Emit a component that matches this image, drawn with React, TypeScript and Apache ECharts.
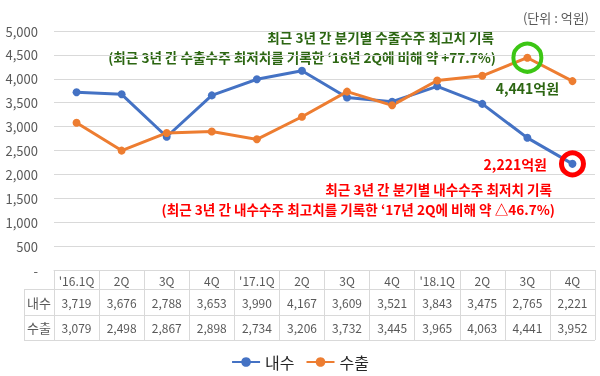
import React, { useEffect, useRef } from "react";
import * as echarts from "echarts";

const categories = ["'16.1Q", "2Q", "3Q", "4Q", "'17.1Q", "2Q", "3Q", "4Q", "'18.1Q", "2Q", "3Q", "4Q"];
const domestic = [3719, 3676, 2788, 3653, 3990, 4167, 3609, 3521, 3843, 3475, 2765, 2221];
const exportVals = [3079, 2498, 2867, 2898, 2734, 3206, 3732, 3445, 3965, 4063, 4441, 3952];
const seriesNames = ["내수", "수출"];

const FONT = "'Noto Sans CJK KR', 'Noto Sans', sans-serif";
const GRAY = "#595959";
const LINE = "#d9d9d9";
const GREEN_TXT = "#2c6612";
const NOTE_SIZE = 13.6;
const fmt = (v: number) => v.toLocaleString("en-US");

export default function App() {
  const ref = useRef<HTMLDivElement>(null);
  useEffect(() => {
    if (!ref.current) return;
    const chart = echarts.init(ref.current, null, { renderer: "svg" });
    const gridL = 54, gridR = 5, gridT = 31, gridB = 106;
    const tableL = 24, tableR = 600 - gridR;
    const rowLines = [289, 315, 340];
    const tableX = (idx: number, margin: number) => ({
      type: "category",
      gridIndex: 0,
      position: "bottom",
      data: idx === 0 ? categories : categories.map((_, i) => fmt(idx === 1 ? domestic[i] : exportVals[i])),
      boundaryGap: true,
      axisLine: idx === 0 ? { show: true, lineStyle: { color: LINE } } : { show: false },
      axisTick: idx === 0 ? { show: true, length: 70, lineStyle: { color: LINE } } : { show: false },
      axisLabel: { margin, fontSize: 12, lineHeight: 16, color: GRAY, fontFamily: FONT, interval: 0 },
      splitLine: { show: false },
    });
    const note = (text: string, x: number, y: number, fill: string) => ({
      type: "text",
      x,
      y,
      style: {
        text, fill, fontSize: NOTE_SIZE, fontWeight: "bold", fontFamily: FONT,
        align: "right", verticalAlign: "middle",
      },
    });
    chart.setOption({
      animation: false,
      textStyle: { fontFamily: FONT },
      grid: { left: gridL, right: gridR, top: gridT, bottom: gridB, containLabel: false },
      legend: {
        data: seriesNames,
        top: 349,
        left: "center",
        itemWidth: 28,
        itemHeight: 12,
        itemGap: 11,
        textStyle: { fontSize: 16, color: "#262626", fontFamily: FONT },
      },
      xAxis: [tableX(0, 2), tableX(1, 24), tableX(2, 49)],
      yAxis: {
        type: "value",
        min: 0,
        max: 5000,
        interval: 500,
        axisLine: { show: false },
        axisTick: { show: false },
        axisLabel: {
          margin: 16,
          fontSize: 13,
          color: GRAY,
          fontFamily: FONT,
          formatter: (v: number) => (v === 0 ? "-" : fmt(v)),
        },
        splitLine: { lineStyle: { color: LINE } },
      },
      series: [
        {
          name: seriesNames[0],
          type: "line",
          data: domestic,
          color: "#4472C4",
          lineStyle: { width: 3 },
          symbol: "circle",
          symbolSize: 8,
          markPoint: {
            symbol: "circle",
            symbolSize: 22,
            itemStyle: { color: "rgba(0,0,0,0)", borderColor: "#ff0000", borderWidth: 5 },
            label: {
              show: true,
              position: "left",
              distance: 12,
              formatter: (p: any) => fmt(p.value) + "억원",
              color: "#ff0000",
              fontWeight: "bold",
              fontSize: 14,
              fontFamily: FONT,
            },
            data: [{ type: "min" }],
          },
        },
        {
          name: seriesNames[1],
          type: "line",
          data: exportVals,
          color: "#ED7D31",
          lineStyle: { width: 3 },
          symbol: "circle",
          symbolSize: 8,
          markPoint: {
            symbol: "circle",
            symbolSize: 28,
            itemStyle: { color: "rgba(0,0,0,0)", borderColor: "#3cc614", borderWidth: 4 },
            label: {
              show: true,
              position: "bottom",
              distance: 7,
              formatter: (p: any) => fmt(p.value) + "억원",
              color: GREEN_TXT,
              fontWeight: "bold",
              fontSize: 14,
              fontFamily: FONT,
            },
            data: [{ type: "max" }],
          },
        },
      ],
      graphic: [
        {
          type: "text",
          right: 11,
          top: 11,
          style: { text: "(단위 : 억원)", fill: GRAY, fontSize: 13, fontFamily: FONT },
        },
        note("최근 3년 간 분기별 수출수주 최고치 기록", 494, 37, GREEN_TXT),
        note("(최근 3년 간 수출수주 최저치를 기록한 ‘16년 2Q에 비해 약 +77.7%)", 496, 57, GREEN_TXT),
        note("최근 3년 간 분기별 내수수주 최저치 기록", 552, 189, "#ff0000"),
        note("(최근 3년 간 내수수주 최고치를 기록한 ‘17년 2Q에 비해 약 △46.7%)", 555, 209, "#ff0000"),
        ...rowLines.map((y) => ({
          type: "line",
          shape: { x1: tableL, y1: y + 0.5, x2: tableR, y2: y + 0.5 },
          style: { stroke: LINE, lineWidth: 1 },
          silent: true,
        })),
        {
          type: "line",
          shape: { x1: tableL + 0.5, y1: rowLines[0], x2: tableL + 0.5, y2: rowLines[2] },
          style: { stroke: LINE, lineWidth: 1 },
          silent: true,
        },
        ...seriesNames.map((n, i) => ({
          type: "text",
          x: (tableL + gridL) / 2,
          y: (rowLines[i] + rowLines[i + 1]) / 2,
          style: { text: n, fill: GRAY, fontSize: 13, fontFamily: FONT, align: "center", verticalAlign: "middle" },
        })),
      ],
    });
    return () => chart.dispose();
  }, []);
  return <div ref={ref} style={{ position: "fixed", left: 0, top: 0, width: 600, height: 376 }} />;
}
